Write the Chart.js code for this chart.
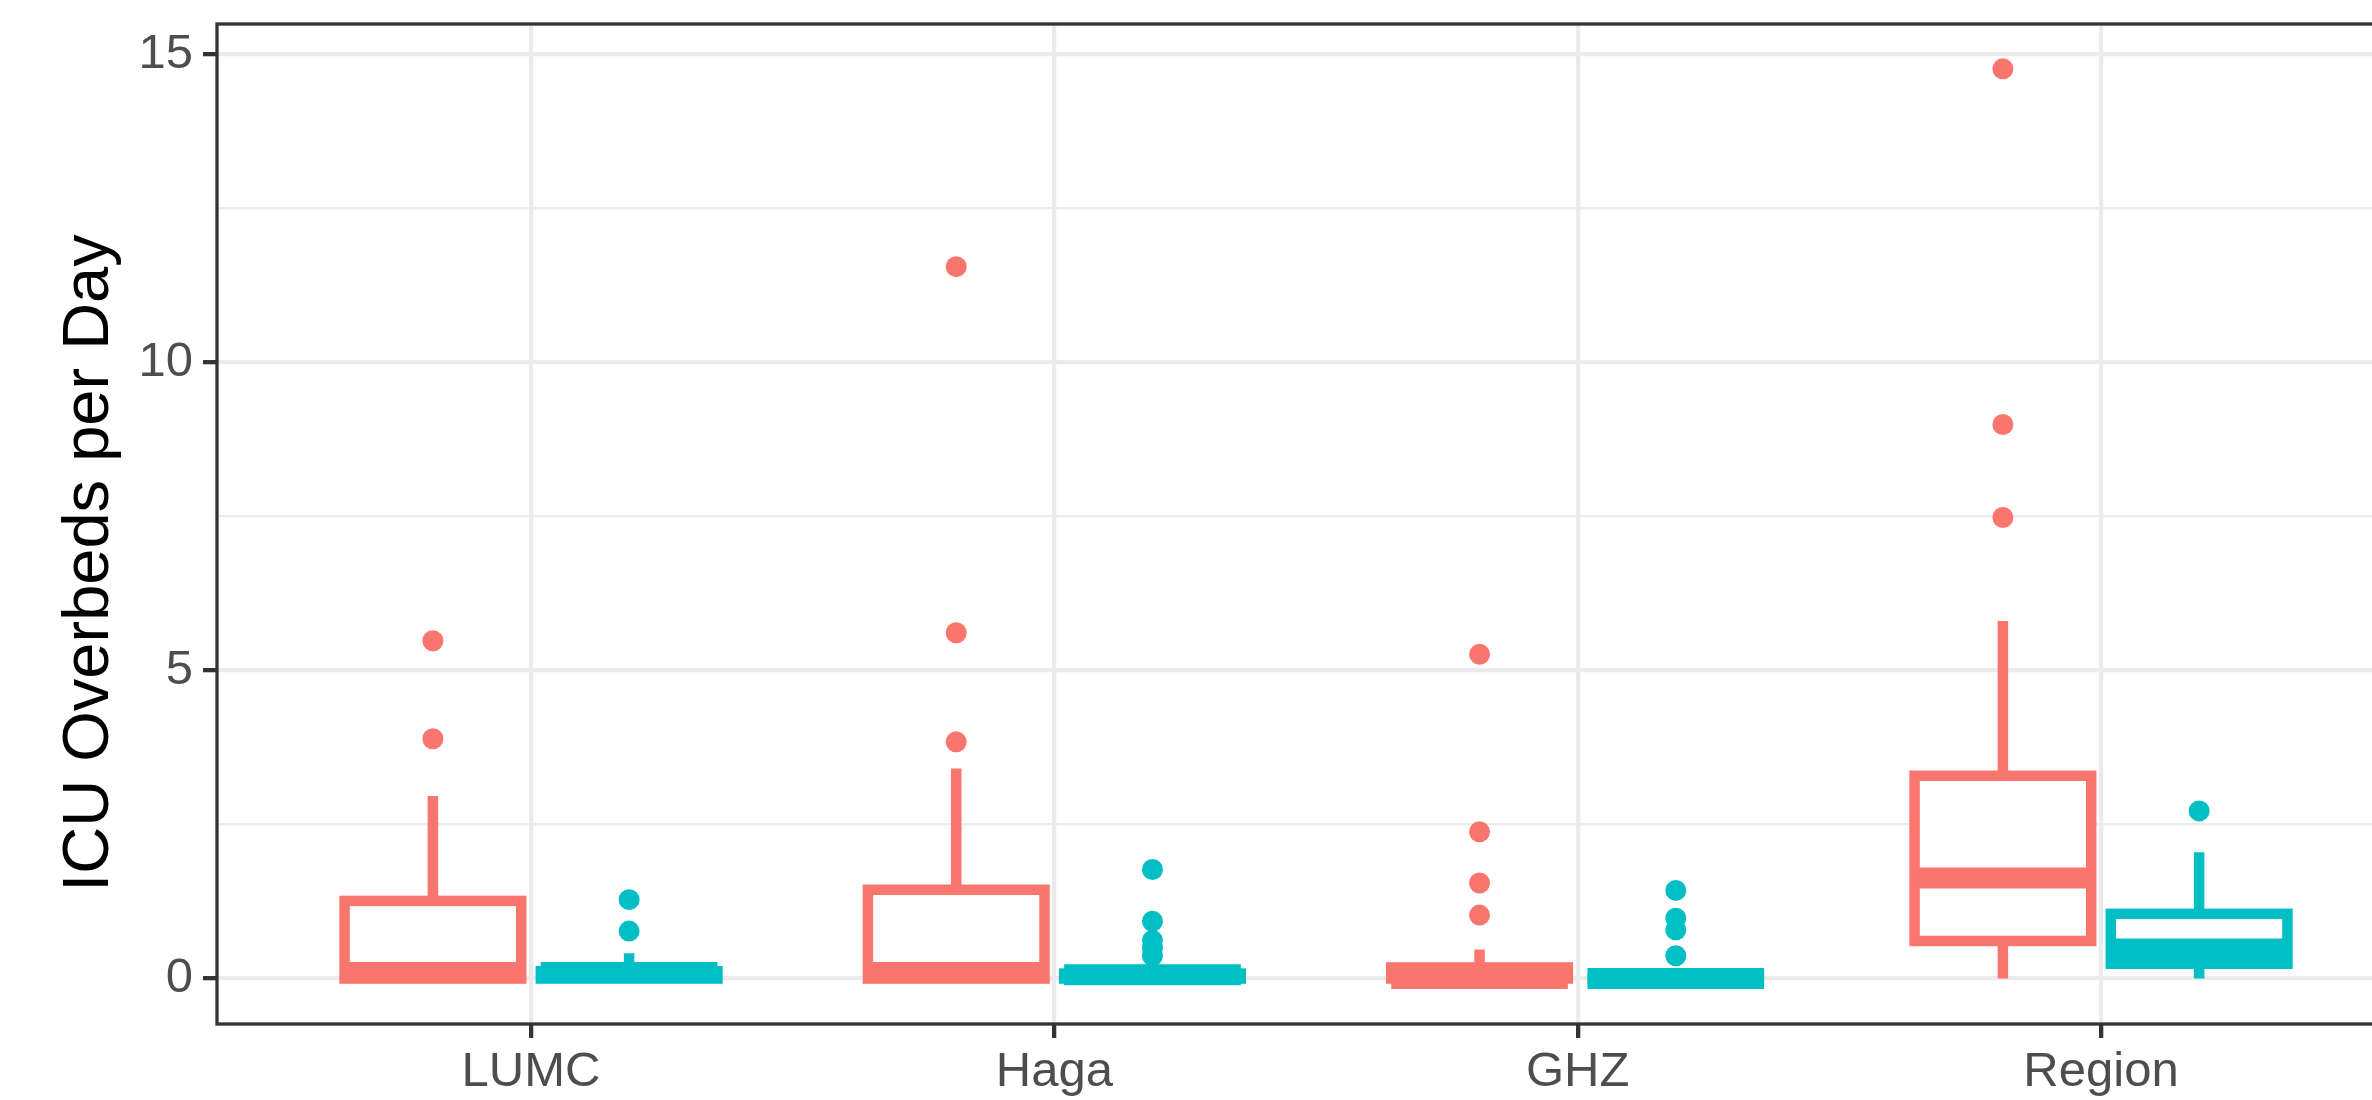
<!DOCTYPE html>
<html>
<head>
<meta charset="utf-8">
<script src="https://cdn.jsdelivr.net/npm/chart.js@4.4.1/dist/chart.umd.min.js"></script>
<style>
  html, body { margin: 0; padding: 0; background: #fff; overflow: hidden; }
  #wrap { position: absolute; left: 0; top: 0; width: 2440px; height: 1100px; }
</style>
</head>
<body>
<div id="wrap"><canvas id="boxChart" width="2440" height="1100"></canvas></div>
<script>
// categories and tick labels
const categories = ["LUMC", "Haga", "GHZ", "Region"];
const yTicks = [0, 5, 10, 15];
const yMinorTicks = [2.5, 7.5, 12.5];
const yTitle = "ICU Overbeds per Day";

// red series (left box in each group)
const lowA = [0, 0, 0, 0];
const q1A = [0, 0, 0, 0.61];
const medA = [0.1, 0.1, 0, 1.63];
const q3A = [1.26, 1.44, 0.18, 3.29];
const highA = [2.96, 3.41, 0.47, 5.8];
const outliersA = [[5.48, 3.89], [11.55, 5.61, 3.84], [5.26, 2.38, 1.55, 1.03], [14.76, 8.99, 7.48]];

// teal series (right box in each group)
const lowB = [0, 0, 0, 0];
const q1B = [0, 0, 0, 0.24];
const medB = [0.1, 0.06, 0, 0.48];
const q3B = [0.12, 0.08, 0, 1.05];
const highB = [0.41, 0.1, 0, 2.05];
const outliersB = [[1.28, 0.77], [1.77, 0.93, 0.62, 0.5, 0.37], [1.43, 0.98, 0.79, 0.37], [2.72]];

const redCol = "#F8766D";
const tealCol = "#00BFC4";
const fontFam = "'Liberation Sans', Arial, sans-serif";

// dodge offset and half width of the boxes, in category units
const dodge = [-0.1875, 0.1875];
const boxHalf = 0.16875;
const boxLine = 10.5;

const boxSeries = [
    { color: redCol, low: lowA, q1: q1A, med: medA, q3: q3A, high: highA },
    { color: tealCol, low: lowB, q1: q1B, med: medB, q3: q3B, high: highB }
];

function outlierPoints(list, off) {
    let pts = [];
    for (let i = 0; i < list.length; i++) {
        for (let j = 0; j < list[i].length; j++) {
            pts.push({ x: i + 1 + off, y: list[i][j] });
        }
    }
    return pts;
}

// draws whiskers, boxes and medians with the chart's scales
const boxPlugin = {
    id: "boxes",
    afterDatasetsDraw(chart) {
        const xs = chart.scales.x;
        const ys = chart.scales.y;
        const ctx = chart.ctx;
        ctx.save();
        ctx.lineCap = "butt";
        ctx.lineJoin = "miter";
        boxSeries.forEach((s, si) => {
            ctx.strokeStyle = s.color;
            for (let i = 0; i < categories.length; i++) {
                const cx = xs.getPixelForValue(i + 1 + dodge[si]);
                const hw = xs.getPixelForValue(i + 1 + dodge[si] + boxHalf) - cx;
                const pLow = ys.getPixelForValue(s.low[i]);
                const pQ1 = ys.getPixelForValue(s.q1[i]);
                const pMed = ys.getPixelForValue(s.med[i]);
                const pQ3 = ys.getPixelForValue(s.q3[i]);
                const pHigh = ys.getPixelForValue(s.high[i]);

                ctx.lineWidth = boxLine;
                ctx.beginPath();
                ctx.moveTo(cx, pQ3); ctx.lineTo(cx, pHigh);
                ctx.moveTo(cx, pQ1); ctx.lineTo(cx, pLow);
                ctx.stroke();

                ctx.fillStyle = "#FFFFFF";
                ctx.fillRect(cx - hw, pQ3, hw * 2, pQ1 - pQ3);
                ctx.strokeRect(cx - hw, pQ3, hw * 2, pQ1 - pQ3);

                ctx.lineWidth = boxLine * 2;
                ctx.beginPath();
                ctx.moveTo(cx - hw, pMed); ctx.lineTo(cx + hw, pMed);
                ctx.stroke();
            }
        });
        ctx.restore();
    },
    afterDraw(chart) {
        const a = chart.chartArea;
        const ctx = chart.ctx;
        ctx.save();
        ctx.strokeStyle = "#333333";
        ctx.lineWidth = 3.3;
        ctx.strokeRect(a.left, a.top, a.right - a.left, a.bottom - a.top);

        // y axis title, sits a bit below the panel centre like the original
        ctx.translate(90, 563);
        ctx.rotate(-Math.PI / 2);
        ctx.fillStyle = "#000000";
        ctx.font = "65px " + fontFam;
        ctx.textAlign = "center";
        ctx.textBaseline = "middle";
        ctx.fillText(yTitle, 0, 0);
        ctx.restore();
    }
};

const chartData = {
    datasets: [
        {
            label: "red",
            data: outlierPoints(outliersA, dodge[0]),
            backgroundColor: redCol,
            pointRadius: 10.5,
            pointHoverRadius: 10.5,
            pointBorderWidth: 0
        },
        {
            label: "teal",
            data: outlierPoints(outliersB, dodge[1]),
            backgroundColor: tealCol,
            pointRadius: 10.5,
            pointHoverRadius: 10.5,
            pointBorderWidth: 0
        }
    ]
};

const config = {
    type: "scatter",
    data: chartData,
    plugins: [boxPlugin],
    options: {
        responsive: false,
        animation: false,
        devicePixelRatio: 1,
        layout: { padding: { top: 24, right: 25, left: 0, bottom: 0 } },
        plugins: { legend: { display: false }, tooltip: { enabled: false } },
        scales: {
            x: {
                type: "linear",
                min: 0.4,
                max: 4.6,
                afterBuildTicks: (s) => { s.ticks = categories.map((c, i) => ({ value: i + 1 })); },
                afterFit: (s) => { s.height = 76; s.paddingLeft = 0; s.paddingRight = 0; },
                ticks: {
                    callback: (v) => categories[v - 1],
                    color: "#4D4D4D",
                    font: { family: fontFam, size: 49 },
                    padding: 5,
                    maxRotation: 0,
                    autoSkip: false
                },
                grid: { color: "#EBEBEB", lineWidth: 4.3, tickColor: "#333333", tickWidth: 4.3, tickLength: 14 },
                border: { display: false }
            },
            y: {
                type: "linear",
                min: -0.7375,
                max: 15.4875,
                afterBuildTicks: (s) => {
                    s.ticks = yTicks.concat(yMinorTicks).sort((a, b) => a - b).map((v) => ({ value: v }));
                },
                afterFit: (s) => { s.width = 217; s.paddingTop = 0; s.paddingBottom = 0; },
                ticks: {
                    callback: (v) => yTicks.includes(v) ? String(v) : "",
                    color: "#4D4D4D",
                    font: { family: fontFam, size: 49 },
                    padding: 10
                },
                grid: {
                    color: "#EBEBEB",
                    lineWidth: (c) => yTicks.includes(c.tick.value) ? 4.3 : 2.2,
                    tickColor: (c) => yTicks.includes(c.tick.value) ? "#333333" : "rgba(0,0,0,0)",
                    tickWidth: 4.3,
                    tickLength: 14
                },
                border: { display: false }
            }
        }
    }
};

const boxChart = new Chart(document.querySelector("#boxChart"), config);
</script>
</body>
</html>
